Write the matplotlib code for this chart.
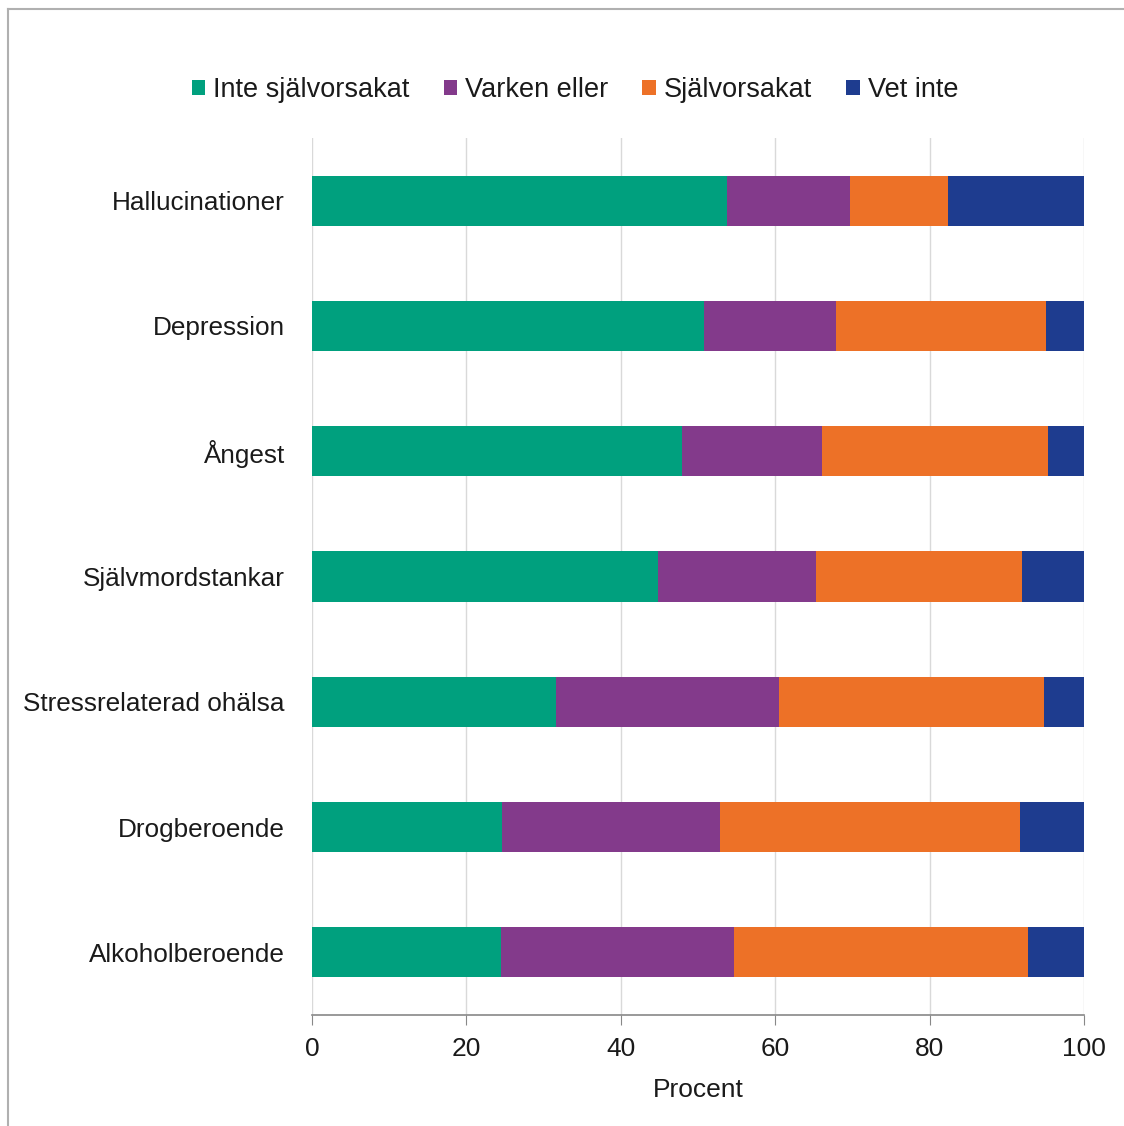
import numpy as np
import matplotlib
matplotlib.use('Agg')
import matplotlib.pyplot as plt
from matplotlib.lines import Line2D

categories = ["Hallucinationer", "Depression", "Ångest", "Självmordstankar",
              "Stressrelaterad ohälsa", "Drogberoende", "Alkoholberoende"]
series_names = ["Inte självorsakat", "Varken eller", "Självorsakat", "Vet inte"]
inte_sjalvorsakat = [53.8, 50.8, 47.9, 44.8, 31.6, 24.6, 24.5]
varken_eller = [15.9, 17.1, 18.2, 20.5, 28.9, 28.2, 30.2]
sjalvorsakat = [12.7, 27.2, 29.2, 26.7, 34.3, 38.9, 38.0]
vet_inte = [17.6, 4.9, 4.7, 8.0, 5.2, 8.3, 7.3]
colors = ['#00A07E', '#833A8B', '#ED7127', '#1E3C8F']
xticks = [0, 20, 40, 60, 80, 100]

plt.rcParams['font.family'] = ['Liberation Sans', 'DejaVu Sans']

fig = plt.figure(figsize=(11.24, 11.26), dpi=100)
ax = fig.add_axes([312 / 1124, 1 - 1015 / 1126, (1084 - 312) / 1124, (1015 - 138) / 1126])

y = np.arange(len(categories))
left = np.zeros(len(categories))
for name, vals, c in zip(series_names, [inte_sjalvorsakat, varken_eller, sjalvorsakat, vet_inte], colors):
    ax.barh(y, vals, left=left, height=0.4, color=c, label=name)
    left += np.array(vals)

ax.set_xlim(0, 100)
ax.set_ylim(len(categories) - 0.5, -0.5)
ax.set_yticks(y)
ax.set_yticklabels(categories, fontsize=18.8, color='#1a1a1a')
ax.set_xticks(xticks)
ax.set_xticklabels([str(t) for t in xticks], fontsize=19, color='#1a1a1a')
ax.tick_params(axis='y', length=0, pad=19.5)
ax.tick_params(axis='x', length=7, color='#888888', pad=9)
ax.set_xlabel("Procent", fontsize=19, color='#1a1a1a', labelpad=12)
ax.xaxis.grid(True, color='#d9d9d9', linewidth=1)
ax.set_axisbelow(True)
for s in ['top', 'right', 'left']:
    ax.spines[s].set_visible(False)
ax.spines['bottom'].set_color('#888888')
ax.spines['bottom'].set_linewidth(1.2)

fig.legend(loc='center', bbox_to_anchor=(0.5116, 1 - 90 / 1126), ncol=4, frameon=False,
           fontsize=19.5, handlelength=0.5, handleheight=0.5, handletextpad=0.3,
           columnspacing=1.25, labelcolor='#1a1a1a')

# thin frame lines on the left and top edges
fig.add_artist(Line2D([8 / 1124, 8 / 1124], [0, 1 - 9 / 1126], color='#b0b0b0', lw=1.5, transform=fig.transFigure))
fig.add_artist(Line2D([8 / 1124, 1], [1 - 9 / 1126, 1 - 9 / 1126], color='#b0b0b0', lw=1.5, transform=fig.transFigure))

fig.savefig('out.png', dpi=100)
